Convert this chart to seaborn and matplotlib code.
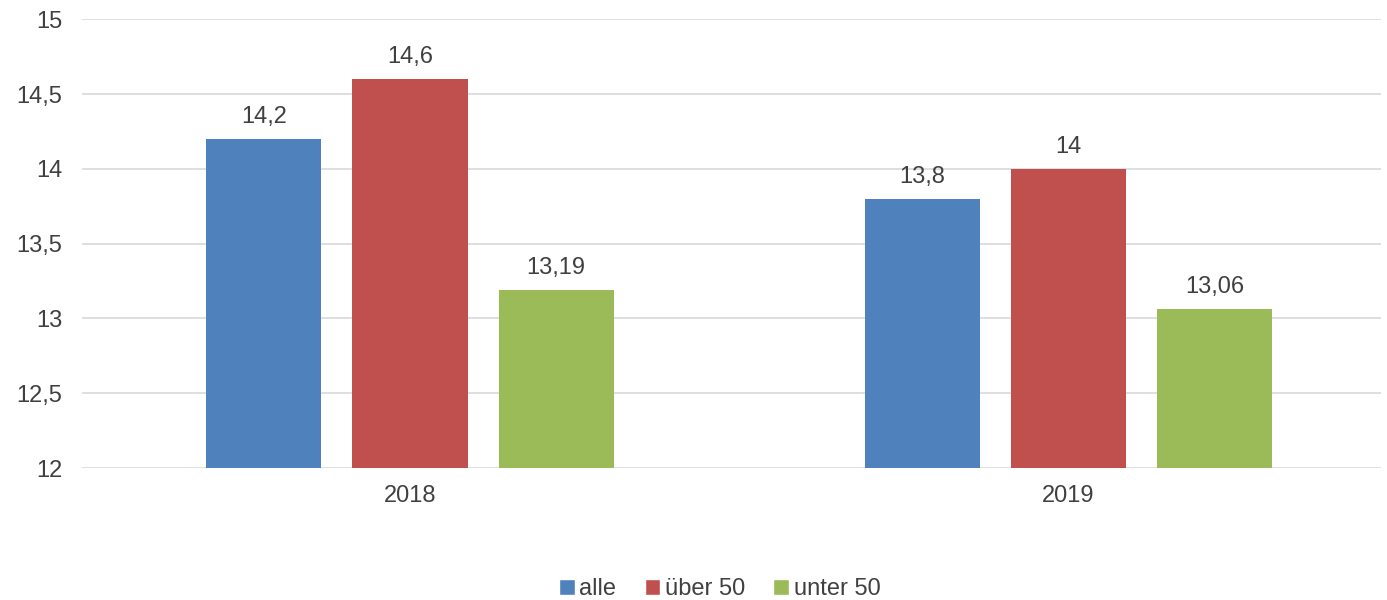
import pandas as pd
import matplotlib.pyplot as plt
import seaborn as sns
from matplotlib.patches import Patch

# Chart data
years = ["2018", "2019"]
groups = ["alle", "über 50", "unter 50"]
alle = [14.2, 13.8]
ueber50 = [14.6, 14.0]
unter50 = [13.19, 13.06]
value_labels = [["14,2", "13,8"], ["14,6", "14"], ["13,19", "13,06"]]
y_ticks = [12, 12.5, 13, 13.5, 14, 14.5, 15]
y_tick_labels = ["12", "12,5", "13", "13,5", "14", "14,5", "15"]
colors = ["#4F81BD", "#C0504D", "#9BBB59"]

df = pd.DataFrame({
    "year": years * 3,
    "group": [g for g in groups for _ in years],
    "value": alle + ueber50 + unter50,
})

sns.set_style("white")
plt.rcParams['font.family'] = ['Liberation Sans', 'DejaVu Sans']
text_color = "#404040"
fs = 17

fig = plt.figure(figsize=(13.87, 6), dpi=100)
ax = fig.add_axes([0.059, 0.22, 0.937, 0.748])

sns.barplot(data=df, x="year", y="value", hue="group", palette=colors,
            saturation=1, width=0.666, gap=0.212, linewidth=0,
            ax=ax, legend=False, zorder=3)

ax.set_ylim(12, 15)
ax.set_xlim(-0.4985, 1.4757)
ax.set_yticks(y_ticks)
ax.set_yticklabels(y_tick_labels)
ax.grid(axis="y", color="#d9d9d9", linewidth=1.2, zorder=0)
ax.set_axisbelow(True)
for s in ax.spines.values():
    s.set_visible(False)
ax.tick_params(axis="both", length=0, labelsize=fs, labelcolor=text_color)
ax.tick_params(axis="y", pad=14)
ax.tick_params(axis="x", pad=12)
ax.set_xlabel("")
ax.set_ylabel("")

# Value labels above bars
for container, labels in zip(ax.containers, value_labels):
    ax.bar_label(container, labels=labels, padding=8, fontsize=fs, color=text_color)

handles = [Patch(facecolor=c, label=g) for c, g in zip(colors, groups)]
fig.legend(handles=handles, loc="center", bbox_to_anchor=(0.519, 0.018), ncol=3,
           frameon=False, fontsize=fs, handlelength=0.65, handleheight=0.65,
           handletextpad=0.2, columnspacing=1.2, labelcolor=text_color)

fig.savefig("out.png", dpi=100)
